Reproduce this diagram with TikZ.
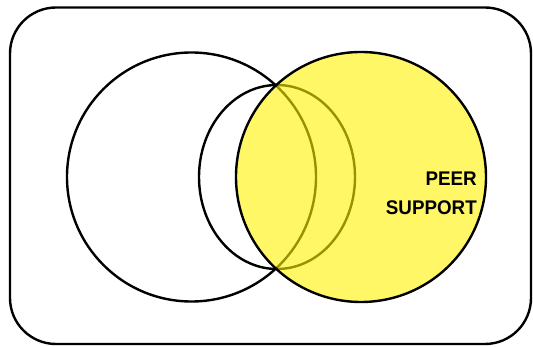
\documentclass[tikz,border=0pt]{standalone}
\usepackage{fontspec}
\setmainfont{Liberation Sans}
\begin{document}
\begin{tikzpicture}[x=1pt,y=-1pt,
  outline/.style={draw=black,line width=2.4pt},
  peerfill/.style={fill=yellow,fill opacity=0.6},
  label/.style={font=\bfseries\fontsize{18.8}{28}\selectfont,align=right,inner sep=0pt}]
\useasboundingbox (0,0) rectangle (533,347);
% outer frame
\draw[outline,rounded corners=46pt] (10,7.5) rectangle (531,344);
% left circle and middle ellipse
\draw[outline] (191.5,177) circle [radius=124.5pt];
\draw[outline] (277,177) ellipse [x radius=78pt, y radius=92pt];
% peer support circle: translucent fill over the lines, then its outline
\fill[peerfill] (361,177) circle [radius=125pt];
\draw[outline] (361,177) circle [radius=125pt];
\node[label,anchor=north east,yscale=1.05] (peer) at (477,171.5) {PEER\\SUPPORT};
\end{tikzpicture}
\end{document}
